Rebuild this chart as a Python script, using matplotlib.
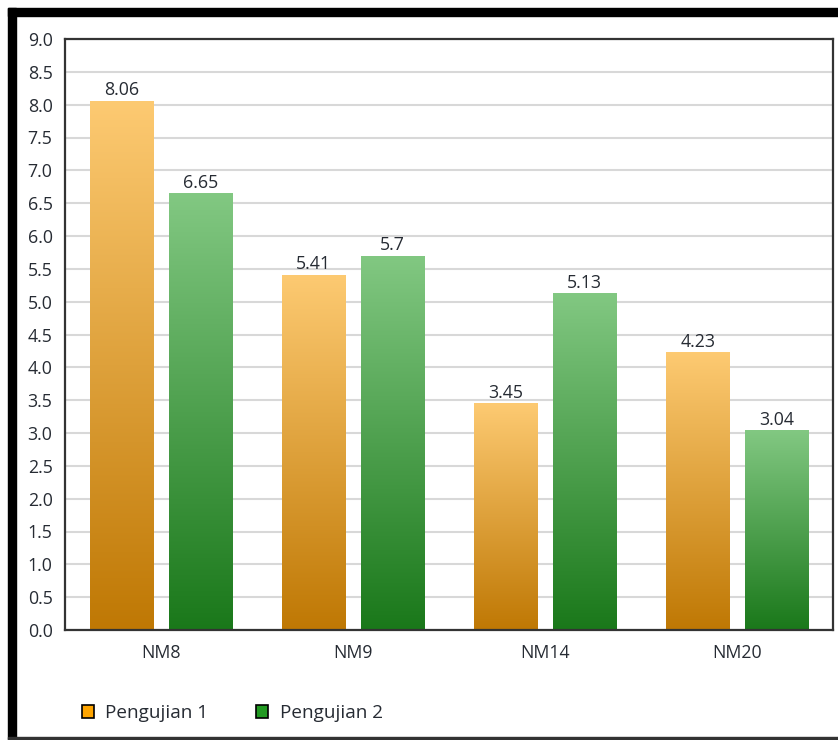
import numpy as np
import matplotlib
matplotlib.use('Agg')
import matplotlib.pyplot as plt
from matplotlib.colors import LinearSegmentedColormap
from matplotlib.patches import Patch, Rectangle

categories = ["NM8", "NM9", "NM14", "NM20"]
series_names = ["Pengujian 1", "Pengujian 2"]
pengujian_1 = [8.06, 5.41, 3.45, 4.23]
pengujian_2 = [6.65, 5.7, 5.13, 3.04]
y_ticks = [0.0, 0.5, 1.0, 1.5, 2.0, 2.5, 3.0, 3.5, 4.0, 4.5, 5.0, 5.5, 6.0, 6.5, 7.0, 7.5, 8.0, 8.5, 9.0]

plt.rcParams['font.family'] = ['Open Sans', 'DejaVu Sans']
text_color = "#262b33"
fs = 12.8

# gradient colour ramps: bottom -> top
ramps = [
    LinearSegmentedColormap.from_list("orange", ["#bf7804", "#fdca72"]),
    LinearSegmentedColormap.from_list("green", ["#1a781a", "#82c882"]),
]
legend_colors = ["#ffa500", "#229a22"]

fig = plt.figure(figsize=(8.38, 7.40), dpi=100)
ax = fig.add_axes([65/838, 1 - 630/740, (833 - 65)/838, (630 - 39)/740])

x = np.arange(len(categories))
width = 0.33
offsets = [-0.205, 0.205]
grad = np.linspace(0, 1, 256).reshape(-1, 1)

for vals, off, cmap in zip([pengujian_1, pengujian_2], offsets, ramps):
    bars = ax.bar(x + off, vals, width, color="none", edgecolor="none", zorder=2)
    for rect, v in zip(bars, vals):
        x0, y0 = rect.get_x(), rect.get_y()
        w, h = rect.get_width(), rect.get_height()
        im = ax.imshow(grad, cmap=cmap, origin="lower", aspect="auto",
                       extent=[x0, x0 + w, y0, y0 + h], zorder=2)
        im.set_clip_path(rect)
        ax.text(x0 + w/2, y0 + h + 0.02, f"{v:g}", ha="center", va="bottom",
                fontsize=fs, color=text_color, zorder=3)

ax.set_xlim(-0.5, len(categories) - 0.5)
ax.set_ylim(0, 9)
ax.set_yticks(y_ticks)
ax.set_yticklabels([f"{t:.1f}" for t in y_ticks])
ax.set_xticks(x)
ax.set_xticklabels(categories)
ax.tick_params(axis="y", length=0, pad=9, labelsize=fs, labelcolor=text_color)
ax.tick_params(axis="x", length=0, pad=10, labelsize=fs, labelcolor=text_color)
ax.grid(axis="y", color="#d8d8d8", linewidth=1.5, zorder=0)
ax.set_axisbelow(True)
for s in ax.spines.values():
    s.set_color("#333333")
    s.set_linewidth(1.6)

handles = [Patch(facecolor=c, edgecolor="black", linewidth=1.2) for c in legend_colors]
fig.legend(handles, series_names, loc="center left", bbox_to_anchor=(78/838, 1 - 713/740),
           ncol=2, frameon=False, fontsize=13.6, handlelength=0.64, handleheight=0.64,
           handletextpad=0.6, columnspacing=2.55, labelcolor=text_color,
           borderaxespad=0, borderpad=0.2)

# outer frame: heavy left/top edge, thin bottom edge
fig.patches.append(Rectangle((8/838, 1 - 740/740), 8/838, (740 - 8)/740,
                             transform=fig.transFigure, color="black", zorder=10))
fig.patches.append(Rectangle((8/838, 1 - 16/740), 830/838, 8/740,
                             transform=fig.transFigure, color="black", zorder=10))
fig.patches.append(Rectangle((8/838, 1 - 739/740), 830/838, 2/740,
                             transform=fig.transFigure, color="#333333", zorder=10))

fig.savefig("out.png", dpi=100)
